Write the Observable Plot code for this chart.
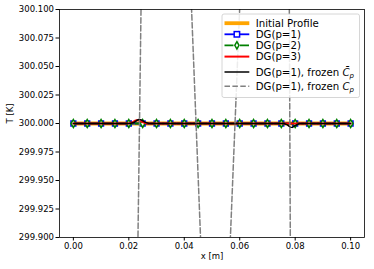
<!DOCTYPE html>
<html><head><meta charset="utf-8">
<script src="https://cdn.jsdelivr.net/npm/d3@7"></script>
<script src="https://cdn.jsdelivr.net/npm/@observablehq/plot@0.6"></script>
<style>body{margin:0;background:#fff}</style>
</head><body><div id="chart"></div>
<script>
// Node positions (markers every 0.005 m)
const nodesX = [0,0.005,0.01,0.015,0.02,0.025,0.03,0.035,0.04,0.045,0.05,0.055,0.06,0.065,0.07,0.075,0.08,0.085,0.09,0.095,0.1];
const initialT = [300,300,300,300,300,300,300,300,300,300,300,300,300,300,300,300,300,300,300,300,300];
const dg1T     = [300,300,300,300,300,300,300,300,300,300,300,300,300,300,300,300,300,300,300,300,300];
const dg2T     = [300,300,300,300,300,300,300,300,300,300,300,300,300,300,300,300,300,300,300,300,300];
// DG(p=3)
const dg3X = [0,0.02,0.0212,0.0222,0.0232,0.0242,0.0254,0.0266,0.1];
const dg3T = [300,300,300.0008,300.0024,300.003,300.0022,300.0008,300,300];
// DG(p=1), frozen C-bar_p
const frzBarX = [0,0.0205,0.0218,0.0228,0.0236,0.0246,0.0258,0.0272,0.076,0.0772,0.0782,0.079,0.0802,0.0815,0.1];
const frzBarT = [300,300,300.0008,300.0026,300.0035,300.003,300.0012,300,300,299.9988,299.9968,299.9966,299.9985,300,300];
// DG(p=1), frozen C_p (oscillates far outside the shown range)
const frzX = [0.0222,0.0255,0.0394,0.0491,0.0533,0.0633,0.07754,0.07859];
const frzT = [299.7,300.3,300.3,299.7,299.7,300.3,300.3,299.7];

const xTicks = [0,0.02,0.04,0.06,0.08,0.1];
const yTicks = [299.9,299.925,299.95,299.975,300,300.025,300.05,300.075,300.1];

const legendLabels = ["Initial Profile","DG(p=1)","DG(p=2)","DG(p=3)","DG(p=1), frozen ","DG(p=1), frozen "];

const initRows = nodesX.map((x,i)=>({x,y:initialT[i]}));
const dg1Rows = nodesX.map((x,i)=>({x,y:dg1T[i]}));
const dg2Rows = nodesX.map((x,i)=>({x,y:dg2T[i]}));
const dg3Rows = dg3X.map((x,i)=>({x,y:dg3T[i]}));
const fbRows = frzBarX.map((x,i)=>({x,y:frzBarT[i]}));
const fRows = frzX.map((x,i)=>({x,y:frzT[i]}));

const thinDiamond = {draw(ctx, size){const h=Math.sqrt(size)*0.75; const w=h*0.6; ctx.moveTo(0,-h); ctx.lineTo(w,0); ctx.lineTo(0,h); ctx.lineTo(-w,0); ctx.closePath();}};

const chart = Plot.plot({
  width:374, height:269,
  marginLeft:59, marginRight:10, marginTop:9, marginBottom:32,
  style:{fontFamily:"DejaVu Sans", fontSize:"8.5px", background:"white", color:"black", overflow:"visible"},
  x:{domain:[-0.005,0.105]},
  y:{domain:[299.9,300.1]},
  marks:[
    Plot.line(initRows,{x:"x",y:"y",stroke:"orange",strokeWidth:3.8,clip:true}),
    Plot.line(dg1Rows,{x:"x",y:"y",stroke:"blue",strokeWidth:1.8,clip:true}),
    Plot.dot(dg1Rows,{x:"x",y:"y",symbol:"square",r:2.7,fill:"white",stroke:"blue",strokeWidth:1.5,clip:true}),
    Plot.line(dg2Rows,{x:"x",y:"y",stroke:"green",strokeWidth:1.8,strokeDasharray:"9,2.5,1.5,2.5",clip:true}),
    Plot.dot(dg2Rows,{x:"x",y:"y",symbol:thinDiamond,r:3,fill:"white",stroke:"green",strokeWidth:1.5,clip:true}),
    Plot.line(dg3Rows,{x:"x",y:"y",stroke:"red",strokeWidth:2,clip:true}),
    Plot.line(fbRows,{x:"x",y:"y",stroke:"black",strokeWidth:1.5,clip:true}),
    Plot.line(fRows,{x:"x",y:"y",stroke:"#808080",strokeWidth:1.5,strokeDasharray:"5.5,2.4",clip:true}),
    Plot.frame({stroke:"black",strokeWidth:0.8}),
    Plot.axisX({ticks:xTicks,tickFormat:d3.format(".2f"),tickSize:3.5,tickPadding:2,label:null}),
    Plot.axisY({ticks:yTicks,tickFormat:d3.format(".3f"),tickSize:3.5,tickPadding:2,label:null}),
    Plot.text(["x [m]"],{frameAnchor:"bottom",dy:21}),
    Plot.text(["T [K]"],{frameAnchor:"left",dx:-49,rotate:-90})
  ]
});
document.getElementById("chart").appendChild(chart);

// Legend inside the plot (upper right)
const svg = d3.select(chart);
const lg = svg.append("g").attr("font-family","DejaVu Sans").attr("font-size","10.2px").attr("text-anchor","start");
lg.append("rect").attr("x",222).attr("y",14).attr("width",137.5).attr("height",83.5).attr("rx",2)
  .attr("fill","white").attr("fill-opacity",0.85).attr("stroke","#cccccc").attr("stroke-width",0.8);
const ys = [23.2,34.3,45.3,56.6,72,86.2];
const hx0 = 224.5, hx1 = 249.3, tx = 255.7;
// handles
lg.append("line").attr("x1",hx0).attr("x2",hx1).attr("y1",ys[0]).attr("y2",ys[0]).attr("stroke","orange").attr("stroke-width",3.8);
lg.append("line").attr("x1",hx0).attr("x2",hx1).attr("y1",ys[1]).attr("y2",ys[1]).attr("stroke","blue").attr("stroke-width",1.8);
lg.append("rect").attr("x",(hx0+hx1)/2-2.7).attr("y",ys[1]-2.7).attr("width",5.4).attr("height",5.4).attr("fill","white").attr("stroke","blue").attr("stroke-width",1.5);
lg.append("line").attr("x1",hx0).attr("x2",hx1).attr("y1",ys[2]).attr("y2",ys[2]).attr("stroke","green").attr("stroke-width",1.8).attr("stroke-dasharray","9,2.5,1.5,2.5");
lg.append("path").attr("transform",`translate(${(hx0+hx1)/2},${ys[2]})`).attr("d","M0,-3.6L2.1,0L0,3.6L-2.1,0Z").attr("fill","white").attr("stroke","green").attr("stroke-width",1.5);
lg.append("line").attr("x1",hx0).attr("x2",hx1).attr("y1",ys[3]).attr("y2",ys[3]).attr("stroke","red").attr("stroke-width",2);
lg.append("line").attr("x1",hx0).attr("x2",hx1).attr("y1",ys[4]).attr("y2",ys[4]).attr("stroke","black").attr("stroke-width",1.5);
lg.append("line").attr("x1",hx0).attr("x2",hx1).attr("y1",ys[5]).attr("y2",ys[5]).attr("stroke","#808080").attr("stroke-width",1.5).attr("stroke-dasharray","5.5,2.4");
// labels
legendLabels.forEach((t,i)=>{
  const tEl = lg.append("text").attr("x",tx).attr("y",ys[i]).attr("dy","0.35em").attr("text-anchor","start").text(t);
  if(i===4){
    tEl.append("tspan").attr("font-style","italic").text("C\u0304");
    tEl.append("tspan").attr("font-style","italic").attr("font-size","7px").attr("dy","2.2").text("p");
  }
  if(i===5){
    tEl.append("tspan").attr("font-style","italic").text("C");
    tEl.append("tspan").attr("font-style","italic").attr("font-size","7px").attr("dy","2.2").text("p");
  }
});
</script>
</body></html>
